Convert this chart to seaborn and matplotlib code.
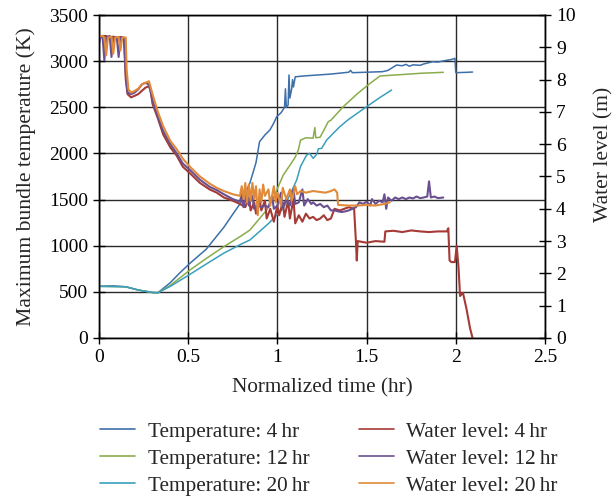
import matplotlib
matplotlib.use("Agg")
import matplotlib.pyplot as plt
import seaborn as sns
import pandas as pd
from matplotlib.lines import Line2D

# ---------------- data ----------------
t_T4 = [0.00, 0.08, 0.15, 0.22, 0.30, 0.33, 0.40, 0.45, 0.51, 0.60, 0.70, 0.753, 0.80, 0.846, 0.88, 0.90,
        0.93, 0.958, 0.98, 0.996, 1.02, 1.04, 1.045, 1.05, 1.06, 1.065, 1.07, 1.08, 1.085, 1.09, 1.10, 1.145,
        1.30, 1.40, 1.41, 1.42, 1.50, 1.59, 1.62, 1.668, 1.70, 1.72, 1.74, 1.76, 1.80, 1.82, 1.87, 1.90,
        1.95, 1.97, 1.995, 2.00, 2.05, 2.094]
T4 = [560, 565, 555, 520, 493, 490, 600, 700, 810, 960, 1200, 1350, 1480, 1680, 1900, 2127,
      2200, 2254, 2330, 2398, 2440, 2500, 2700, 2500, 2524, 2850, 2600, 2700, 2800, 2720, 2830, 2839,
      2860, 2880, 2900, 2875, 2880, 2886, 2900, 2958, 2950, 2965, 2945, 2960, 2955, 2969, 2994, 2990,
      3010, 3015, 3030, 2875, 2878, 2882]

t_T12 = [0.00, 0.15, 0.22, 0.30, 0.33, 0.40, 0.51, 0.60, 0.70, 0.80, 0.846, 0.94, 0.98, 1.033, 1.08, 1.10,
         1.117, 1.13, 1.16, 1.20, 1.21, 1.215, 1.239, 1.26, 1.285, 1.30, 1.369, 1.45, 1.52, 1.575, 1.70, 1.80, 1.93]
T12 = [560, 555, 520, 493, 490, 570, 737, 860, 990, 1110, 1170, 1387, 1530, 1766, 1900, 1960,
       2037, 2145, 2170, 2165, 2280, 2170, 2175, 2250, 2344, 2360, 2506, 2650, 2760, 2839, 2855, 2868, 2879]

t_T20 = [0.00, 0.15, 0.22, 0.30, 0.33, 0.40, 0.51, 0.60, 0.70, 0.80, 0.846, 0.95, 1.033, 1.07, 1.108, 1.13,
         1.164, 1.18, 1.201, 1.22, 1.23, 1.248, 1.276, 1.35, 1.40, 1.50, 1.57, 1.64]
T20 = [560, 555, 520, 493, 490, 560, 690, 800, 920, 1020, 1062, 1240, 1405, 1550, 1712, 1860,
       1983, 2000, 1947, 1990, 2050, 2055, 2145, 2290, 2370, 2506, 2600, 2687]

t_W4 = [0.00, 0.02, 0.04, 0.06, 0.08, 0.10, 0.12, 0.14, 0.15, 0.16, 0.18, 0.20, 0.22, 0.24, 0.26, 0.28,
        0.29, 0.30, 0.33, 0.36, 0.40, 0.435, 0.47, 0.51, 0.566, 0.62, 0.66, 0.70, 0.75, 0.79, 0.82, 0.84,
        0.85, 0.87, 0.88, 0.90, 0.91, 0.93, 0.94, 0.96, 0.98, 1.00, 1.01, 1.03, 1.04, 1.06, 1.07, 1.09,
        1.10, 1.12, 1.14, 1.16, 1.18, 1.20, 1.22, 1.24, 1.26, 1.28, 1.30, 1.32, 1.35, 1.40, 1.43, 1.44,
        1.445, 1.45, 1.50, 1.55, 1.60, 1.605, 1.65, 1.70, 1.75, 1.80, 1.85, 1.90, 1.95, 1.958, 1.965,
        1.975, 1.995, 2.005, 2.015, 2.024, 2.04, 2.06, 2.08, 2.094]
W4 = [9.30, 9.35, 9.35, 9.30, 9.33, 9.30, 9.32, 9.30, 8.00, 7.55, 7.45, 7.50, 7.55, 7.65, 7.75, 7.80,
      7.65, 7.25, 6.80, 6.30, 5.90, 5.65, 5.30, 5.10, 4.80, 4.60, 4.50, 4.35, 4.25, 4.15, 4.05, 4.35,
      3.95, 4.20, 3.85, 4.30, 3.95, 4.25, 3.70, 4.00, 3.60, 4.10, 3.80, 4.20, 3.75, 4.25, 3.70, 4.30,
      3.55, 3.80, 3.60, 3.85, 3.70, 3.75, 3.65, 3.70, 3.80, 3.65, 3.70, 4.00, 3.95, 4.05, 4.00, 3.00,
      2.40, 3.00, 2.95, 3.00, 2.98, 3.30, 3.32, 3.28, 3.33, 3.30, 3.28, 3.30, 3.30, 3.40, 2.40,
      2.35, 2.35, 2.85, 2.20, 1.30, 1.40, 0.90, 0.30, 0.00]

t_W12 = [0.00, 0.01, 0.02, 0.03, 0.04, 0.06, 0.07, 0.08, 0.10, 0.11, 0.12, 0.14, 0.15, 0.16, 0.18, 0.20,
         0.22, 0.24, 0.26, 0.28, 0.30, 0.33, 0.36, 0.40, 0.435, 0.47, 0.51, 0.566, 0.62, 0.66, 0.70, 0.75,
         0.79, 0.80, 0.81, 0.83, 0.84, 0.86, 0.87, 0.89, 0.91, 0.93, 0.95, 0.97, 0.98, 1.00, 1.02, 1.03,
         1.05, 1.07, 1.09, 1.10, 1.12, 1.14, 1.15, 1.17, 1.19, 1.20, 1.22, 1.24, 1.26, 1.28, 1.30, 1.32,
         1.34, 1.36, 1.38, 1.40, 1.42, 1.44, 1.46, 1.48, 1.50, 1.52, 1.53, 1.55, 1.57, 1.59, 1.60, 1.61,
         1.62, 1.64, 1.66, 1.68, 1.70, 1.72, 1.74, 1.76, 1.78, 1.80, 1.82, 1.84, 1.85, 1.86, 1.88, 1.90, 1.93]
W12 = [9.10, 9.35, 9.35, 8.60, 9.30, 9.35, 8.70, 9.30, 9.30, 8.70, 9.30, 9.28, 8.20, 7.60, 7.55, 7.60,
       7.70, 7.85, 7.90, 7.85, 7.35, 6.85, 6.40, 6.00, 5.72, 5.40, 5.20, 4.90, 4.68, 4.58, 4.45, 4.30,
       4.22, 4.45, 4.05, 4.50, 4.10, 4.40, 4.00, 4.10, 4.05, 4.10, 4.05, 4.40, 4.00, 4.10, 4.50, 4.05,
       4.30, 4.10, 4.60, 4.15, 4.20, 4.60, 4.10, 4.30, 4.15, 4.20, 4.10, 4.15, 4.05, 4.10, 3.95, 3.95,
       3.92, 3.90, 3.92, 3.95, 4.00, 4.05, 4.20, 4.15, 4.22, 4.10, 4.30, 4.15, 4.25, 4.20, 4.45, 4.00,
       4.35, 4.25, 4.35, 4.30, 4.35, 4.30, 4.35, 4.32, 4.38, 4.33, 4.35, 4.38, 4.85, 4.35, 4.38, 4.33, 4.35]

t_W20 = [0.00, 0.02, 0.03, 0.04, 0.05, 0.07, 0.08, 0.09, 0.11, 0.12, 0.13, 0.15, 0.155, 0.165, 0.18, 0.20,
         0.22, 0.24, 0.26, 0.28, 0.30, 0.33, 0.36, 0.40, 0.435, 0.47, 0.51, 0.566, 0.62, 0.66, 0.70, 0.75,
         0.79, 0.80, 0.81, 0.82, 0.83, 0.84, 0.85, 0.86, 0.87, 0.88, 0.89, 0.90, 0.91, 0.92, 0.93, 0.95,
         0.96, 0.98, 0.99, 1.00, 1.02, 1.03, 1.05, 1.07, 1.08, 1.10, 1.11, 1.13, 1.16, 1.20, 1.24, 1.27,
         1.30, 1.32, 1.335, 1.34, 1.40, 1.45, 1.50, 1.55, 1.60, 1.63]
W20 = [9.35, 9.35, 9.30, 8.75, 9.30, 9.33, 8.80, 9.30, 9.32, 8.90, 9.30, 9.30, 8.30, 7.70, 7.60, 7.65,
       7.72, 7.85, 7.90, 7.95, 7.55, 7.00, 6.55, 6.10, 5.85, 5.55, 5.30, 5.00, 4.78, 4.65, 4.55, 4.45,
       4.40, 4.70, 4.30, 4.80, 4.20, 4.75, 4.25, 4.80, 4.30, 4.70, 3.80, 4.60, 4.20, 4.75, 4.40, 4.60,
       4.10, 4.70, 4.20, 4.50, 4.10, 4.65, 4.30, 4.60, 4.25, 4.70, 4.45, 4.55, 4.50, 4.55, 4.52, 4.50,
       4.55, 4.60, 4.50, 4.12, 4.10, 4.10, 4.12, 4.10, 4.15, 4.20]

temp_labels = ["Temperature: 4\u2009hr", "Temperature: 12\u2009hr", "Temperature: 20\u2009hr"]
water_labels = ["Water level: 4\u2009hr", "Water level: 12\u2009hr", "Water level: 20\u2009hr"]
x_ticks = [0, 0.5, 1, 1.5, 2, 2.5]
x_tick_labels = ["0", "0.5", "1", "1.5", "2", "2.5"]

temp_colors = ["#3d6fa9", "#8aac4b", "#3a9fbe"]
water_colors = ["#a53a36", "#6a5090", "#e08a3a"]

# ---------------- style ----------------
sns.set_style("ticks")
plt.rcParams["font.family"] = ["Liberation Serif", "DejaVu Serif"]
plt.rcParams["font.size"] = 14

fig = plt.figure(figsize=(6.14, 4.98), dpi=100)
ax = fig.add_axes([99 / 614, 1 - 338 / 498, (545 - 99) / 614, (338 - 15) / 498])
ax2 = ax.twinx()

temps = [(t_T4, T4), (t_T12, T12), (t_T20, T20)]
waters = [(t_W4, W4), (t_W12, W12), (t_W20, W20)]

for (tt, vv), c in zip(temps, temp_colors):
    df = pd.DataFrame({"t": tt, "v": vv})
    sns.lineplot(data=df, x="t", y="v", ax=ax, color=c, lw=1.1, sort=False, estimator=None, legend=False)

for (tt, vv), c in zip(waters, water_colors):
    df = pd.DataFrame({"t": tt, "v": vv})
    sns.lineplot(data=df, x="t", y="v", ax=ax2, color=c, lw=1.5, sort=False, estimator=None, legend=False)

ax.set_xlim(0, 2.5)
ax.set_ylim(0, 3500)
ax2.set_ylim(0, 10)
ax.set_xticks(x_ticks)
ax.set_xticklabels(x_tick_labels)
ax.set_yticks(range(0, 3501, 500))
ax2.set_yticks(range(0, 11))

ax.grid(True, color="#2a2a2a", lw=1.0)
ax.set_axisbelow(True)
for a in (ax, ax2):
    a.tick_params(direction="inout", length=8, width=1, colors="black", labelsize=14, pad=4)
    for s in a.spines.values():
        s.set_color("black")
        s.set_linewidth(1.0)

ax.set_xlabel("Normalized time (hr)", fontsize=15.3, labelpad=9)
ax.set_ylabel("Maximum bundle temperature (K)", fontsize=15.6, labelpad=9)
ax2.set_ylabel("Water level (m)", fontsize=15.6)
ax2.yaxis.set_label_coords(1.11, 0.57)

handles = [Line2D([], [], color=c, lw=1.2) for c in temp_colors + water_colors]
fig.legend(handles, temp_labels + water_labels, ncol=2, loc="lower left",
           bbox_to_anchor=(96 / 614, -2 / 498), frameon=False, fontsize=15.3,
           handlelength=1.65, handletextpad=0.6, columnspacing=2.3, labelspacing=0.34,
           borderaxespad=0.0, borderpad=0.2)

fig.savefig("out.png", dpi=100)
